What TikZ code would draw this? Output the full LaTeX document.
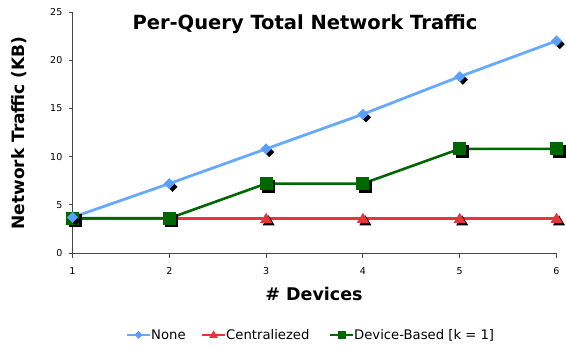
\documentclass[tikz,border=0pt]{standalone}
\usepackage{fontspec}
\setmainfont{DejaVu Sans}
\definecolor{lineblue}{RGB}{102,170,255}
\definecolor{markblue}{RGB}{90,160,250}
\definecolor{linered}{RGB}{232,52,60}
\definecolor{linegreen}{RGB}{0,102,0}
\definecolor{axisgray}{RGB}{70,70,70}
\tikzset{
  axisline/.style={draw=axisgray, line width=0.9pt},
  ticklab/.style={font=\fontsize{9.5}{11}\selectfont, inner sep=0pt},
  legtext/.style={font=\fontsize{13.2}{15}\selectfont, anchor=west, inner sep=0pt},
}
\begin{document}
\begin{tikzpicture}[x=1pt,y=-1pt]
\useasboundingbox (0,0) rectangle (566,347);
% axes
\draw[axisline] (72.5,12) -- (72.5,253) -- (556.5,253);
\foreach \v in {0,5,...,25}{
  \pgfmathsetmacro{\py}{253-\v*9.64}
  \draw[axisline] (68.5,\py) -- (72.5,\py);
  \node[ticklab, anchor=east] at (62.5,\py) {\v};
}
\foreach \x in {1,...,6}{
  \pgfmathsetmacro{\px}{72.5+(\x-1)*96.8}
  \draw[axisline] (\px,253) -- (\px,258);
  \node[ticklab, anchor=north] at (\px,267) {\x};
}
% titles
\node[font=\bfseries\fontsize{19.5}{22}\selectfont, inner sep=0pt] (title) at (305,24) {Per-Query Total Network Traffic};
\node[font=\bfseries\fontsize{17}{19}\selectfont, inner sep=0pt, rotate=90] (ylab) at (19,133) {Network Traffic (KB)};
\node[font=\bfseries\fontsize{17.5}{20}\selectfont, inner sep=0pt] (xlab) at (314,294) {\# Devices};
% data scope
\begin{scope}[shift={(-24.3,253)}, x=96.8pt, y=9.64pt]
  % Centralized
  \draw[linered, line width=2.6pt] (1,3.6) -- (2,3.6) -- (3,3.6) -- (4,3.6) -- (5,3.6) -- (6,3.6);
  % Device-based
  \draw[linegreen, line width=2.6pt] (1,3.6) -- (2,3.6) -- (3,7.2) -- (4,7.2) -- (5,10.8) -- (6,10.8);
  % None
  \draw[lineblue, line width=2.8pt] (1,3.7) -- (2,7.2) -- (3,10.8) -- (4,14.4) -- (5,18.3) -- (6,22);
  % red triangles
  \foreach \x in {1,...,6}{
    \fill[black] ([shift={(2.5pt,-2.5pt)}]\x,3.6) ++(0pt,5.5pt) -- ++(6pt,-10pt) -- ++(-12pt,0pt) -- cycle;
    \fill[linered] (\x,3.6) ++(0pt,5.5pt) -- ++(6pt,-10pt) -- ++(-12pt,0pt) -- cycle;
  }
  % green squares
  \foreach \x/\v in {1/3.6,2/3.6,3/7.2,4/7.2,5/10.8,6/10.8}{
    \fill[black] ([shift={(2.5pt,-2.5pt)}]\x,\v) ++(-6.5pt,-6.5pt) rectangle ++(13pt,13pt);
    \fill[linegreen] (\x,\v) ++(-6.5pt,-6.5pt) rectangle ++(13pt,13pt);
  }
  % blue diamonds
  \foreach \x/\v in {1/3.7,2/7.2,3/10.8,4/14.4,5/18.3,6/22}{
    \fill[black] ([shift={(3.2pt,-3.2pt)}]\x,\v) ++(0pt,-5pt) -- ++(5pt,5pt) -- ++(-5pt,5pt) -- ++(-5pt,-5pt) -- cycle;
    \fill[markblue] (\x,\v) ++(0pt,-5.5pt) -- ++(5.5pt,5.5pt) -- ++(-5.5pt,5.5pt) -- ++(-5.5pt,-5.5pt) -- cycle;
  }
\end{scope}
% legend
\draw[lineblue, line width=2pt] (127,335) -- (150,335);
\fill[markblue] (138.5,331) -- (142.5,335) -- (138.5,339) -- (134.5,335) -- cycle;
\node[legtext] (l1) at (151,335) {None};
\draw[linered, line width=2pt] (202,335) -- (225,335);
\fill[linered] (213.5,330.5) -- (218,338) -- (209,338) -- cycle;
\node[legtext] (l2) at (226,335) {Centraliezed};
\draw[linegreen, line width=2pt] (330,335) -- (353,335);
\fill[linegreen] (337.5,331) rectangle (345.5,339);
\node[legtext] (l3) at (354,335) {Device-Based [k = 1]};
\end{tikzpicture}
\end{document}
